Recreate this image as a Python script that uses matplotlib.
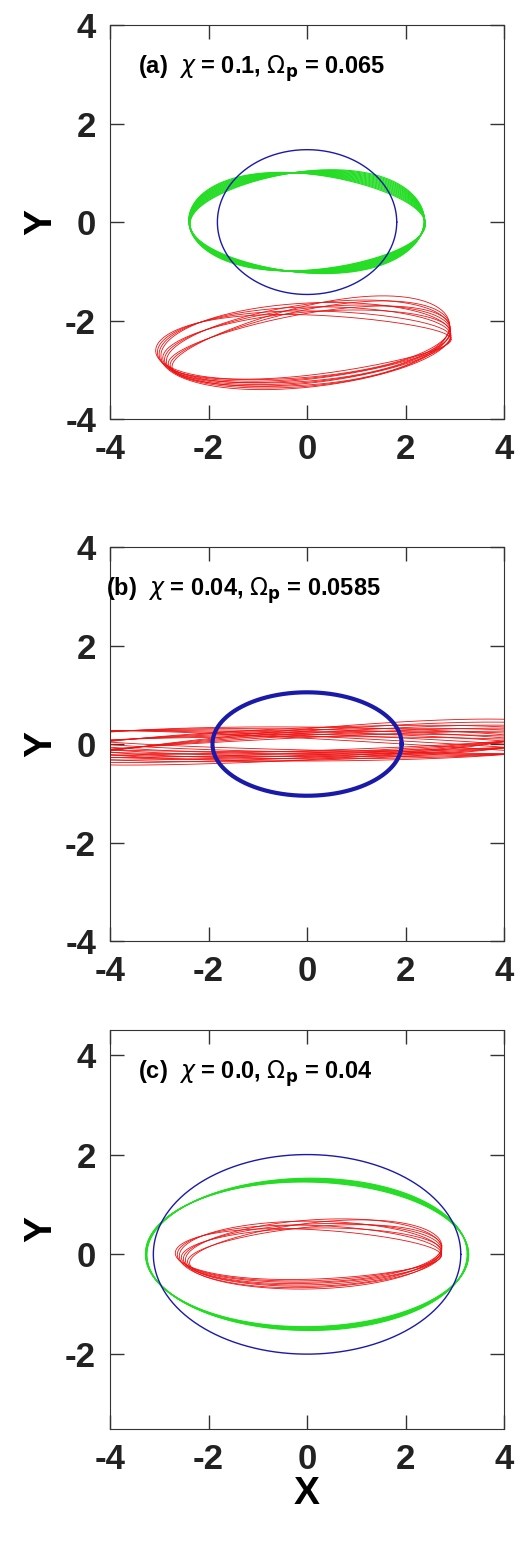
import numpy as np
import matplotlib
matplotlib.use("Agg")
import matplotlib.pyplot as plt

plt.rcParams['font.family'] = ['Liberation Sans', 'DejaVu Sans']
plt.rcParams['axes.unicode_minus'] = False

# ---- data: orbit parameters ----
panels = ["(a)", "(b)", "(c)"]
chi_vals = ["0.1", "0.04", "0.0"]
omega_vals = ["0.065", "0.0585", "0.04"]
ylims = [(-4, 4), (-4, 4), (-3.5, 4.5)]
yticks_list = [[-4, -2, 0, 2, 4], [-4, -2, 0, 2, 4], [-2, 0, 2, 4]]
xticks = [-4, -2, 0, 2, 4]

# blue orbits: (cx, cy, a, b, linewidth)
blue = [(0.0, 0.0, 1.82, 1.47, 1.0), (0.0, 0.0, 1.92, 1.05, 3.0), (0.0, 0.0, 3.12, 2.0, 1.0)]
# green bands: (cx, cy, a, b, tilt spread [rad], n loops) ; None if absent
green = [(0.0, 0.0, 2.4, 0.98, 0.10, 14), None, (0.0, 0.0, 3.28, 1.45, 0.015, 8)]
# red loops
red_cx = [0.0, 0.0, 0.1]
red_cy = [-2.5, 0.0, 0.0]
red_a = [3.0, 5.2, 2.7]
red_b_lo = [0.62, 0.12, 0.5]
red_b_hi = [0.88, 0.36, 0.72]
red_tilt_lo = [0.04, -0.04, -0.01]
red_tilt_hi = [0.16, 0.07, 0.07]
red_nloops = [10, 16, 8]
red_skew = [0.2, 0.08, 0.1]


def ellipse(cx, cy, a, b, tilt, skew=0.0, n=400):
    t = np.linspace(0, 2 * np.pi, n)
    x = a * np.cos(t)
    y = b * np.sin(t) + skew * np.sin(2 * t)
    c, s = np.cos(tilt), np.sin(tilt)
    return cx + c * x - s * y, cy + s * x + c * y


fig = plt.figure(figsize=(5.2, 15.47), dpi=100)
bottoms = [0.7291, 0.3917, 0.0763]
heights = [0.2547, 0.2547, 0.258]
for i in range(3):
    ax = fig.add_axes([0.2115, bottoms[i], 0.758, heights[i]])
    if green[i] is not None:
        cx, cy, a, b, sp, n = green[i]
        for k in range(n):
            tl = -sp + 2 * sp * k / max(n - 1, 1)
            x, y = ellipse(cx, cy, a * (1 - 0.01 * k / n), b * (1 + 0.06 * k / n), tl * 0.2,
                           skew=tl)
            ax.plot(x, y, color="#22dd22", lw=0.8)
    n = red_nloops[i]
    for k in range(n):
        f = k / max(n - 1, 1)
        tl = red_tilt_lo[i] + (red_tilt_hi[i] - red_tilt_lo[i]) * f
        bb = red_b_lo[i] + (red_b_hi[i] - red_b_lo[i]) * ((k * 3) % n) / n
        x, y = ellipse(red_cx[i] + 0.15 * (f - 0.5), red_cy[i], red_a[i] * (1 - 0.05 * f),
                       bb, tl, skew=red_skew[i] * (f - 0.5))
        ax.plot(x, y, color="#ee1111", lw=0.6)
    cx, cy, a, b, lw = blue[i]
    x, y = ellipse(cx, cy, a, b, 0.0)
    ax.plot(x, y, color="#1a1aaa", lw=lw)

    ax.set_xlim(-4, 4)
    ax.set_ylim(*ylims[i])
    ax.set_xticks(xticks)
    ax.set_yticks(yticks_list[i])
    ax.tick_params(direction="in", length=10, width=1, top=True, right=True,
                   labelsize=25, pad=10, color="#333333", labelcolor="#222222")
    for lab in ax.get_xticklabels() + ax.get_yticklabels():
        lab.set_fontweight("bold")
    for sp_ in ax.spines.values():
        sp_.set_color("#333333")
    ax.set_ylabel("Y", fontsize=28, fontweight="bold", labelpad=4)
    ax.text(0.07 if i != 1 else -0.01, 0.89,
            panels[i] + "  " + r"$\chi$" + f" = {chi_vals[i]}, " + r"$\Omega_{\mathbf{p}}$" + f" = {omega_vals[i]}",
            transform=ax.transAxes, fontsize=17, fontweight="bold", va="center")
    if i == 2:
        ax.set_xlabel("X", fontsize=28, fontweight="bold", labelpad=0)

fig.savefig("out.png", dpi=100)
